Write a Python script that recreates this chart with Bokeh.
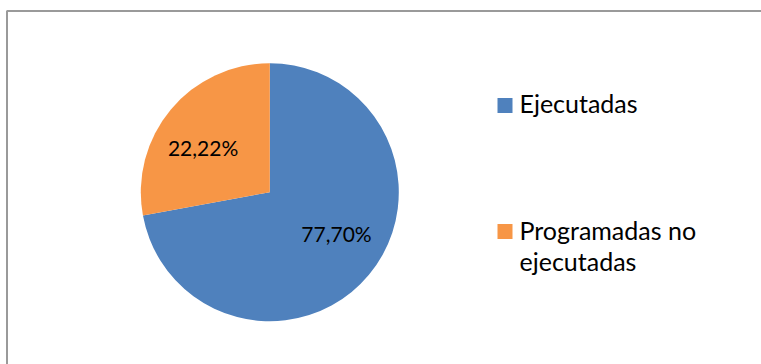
import math
from bokeh.plotting import figure
from bokeh.models import Range1d, ColumnDataSource
from bokeh.core.properties import value
from bokeh.embed import file_html
from bokeh.resources import INLINE

# ---- data ----
categories = ["Ejecutadas", "Programadas no ejecutadas"]
shares = [72.1, 27.9]                 # slice sizes as drawn in the picture
labels = ["77,70%", "22,22%"]         # data-label texts
colors = ["#4F81BD", "#F79646"]

# ---- layout (pixel-like coordinates, y measured from bottom) ----
W, H = 761, 364
cx, cy, R = 269.3, 172.3, 129.0
label_r = 0.615 * R
label_nudge = math.radians(7)
label_dy = 2
FONT = "Lato"

p = figure(width=W, height=H, output_backend="svg", toolbar_location=None,
           x_range=Range1d(0, W), y_range=Range1d(0, H), min_border=0)
p.xaxis.visible = False
p.yaxis.visible = False
p.xgrid.visible = False
p.ygrid.visible = False
p.outline_line_color = None
p.background_fill_color = "white"
p.border_fill_color = "white"

# chart-area border (top and left visible; right/bottom outside the window)
p.line(x=[6.5, 6.5, W + 20], y=[-20, H - 10.5, H - 10.5], line_color="#9a9a9a", line_width=2)

total = sum(shares)
starts, ends, lx, ly = [], [], [], []
cum = 0.0
for s in shares:
    a0 = math.pi / 2 - 2 * math.pi * cum / total
    cum += s
    a1 = math.pi / 2 - 2 * math.pi * cum / total
    starts.append(a0)
    ends.append(a1)
    mid = (a0 + a1) / 2 + label_nudge
    lx.append(cx + label_r * math.cos(mid))
    ly.append(cy + label_r * math.sin(mid) + label_dy)

src = ColumnDataSource(dict(start=starts, end=ends, color=colors,
                            lx=lx, ly=ly, label=labels))
p.wedge(x=cx, y=cy, radius=R, start_angle="start", end_angle="end",
        direction="clock", fill_color="color", line_color=None, source=src)
p.text(x="lx", y="ly", text="label", source=src, text_align="center",
       text_baseline="middle", text_color="black",
       text_font=value(FONT), text_font_size=value("21px"))

# legend
leg_x, leg_sq = 504.5, 15
text_x = 519
sq_cy = [259, 133]           # square centres
text_base = [262, 135]       # first text line position for each entry
line_gap = 31
wrap = [["Ejecutadas"], ["Programadas no", "ejecutadas"]]
sq_x, sq_y, sq_c = [], [], []
tx, ty, tt = [], [], []
for i, cat in enumerate(categories):
    sq_x.append(leg_x)
    sq_y.append(sq_cy[i])
    sq_c.append(colors[i])
    for j, line in enumerate(wrap[i]):
        tx.append(text_x)
        ty.append(text_base[i] - j * line_gap)
        tt.append(line)
p.rect(x=sq_x, y=sq_y, width=leg_sq, height=leg_sq, fill_color=sq_c, line_color=None)
p.text(x=tx, y=ty, text=tt, text_align="left", text_baseline="alphabetic",
       text_color="black", text_font=value(FONT), text_font_size=value("25px"))

open("out.html", "w").write(file_html(p, INLINE))
